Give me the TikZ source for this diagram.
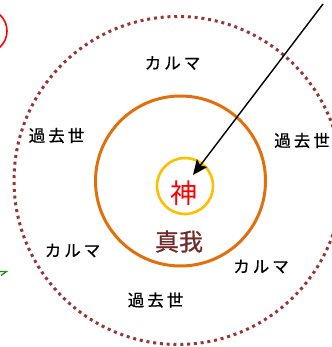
\documentclass[tikz,border=0pt]{standalone}
\usepackage{fontspec}
\newfontfamily\jp{Noto Sans CJK JP}
\newfontfamily\jpb[FakeBold=0.6]{Noto Sans CJK JP}
\usetikzlibrary{arrows.meta}
\definecolor{dotred}{RGB}{150,55,55}
\definecolor{ringorange}{RGB}{226,112,10}
\definecolor{ringyellow}{RGB}{255,190,0}
\definecolor{selfbrown}{RGB}{112,42,42}
\definecolor{greenish}{RGB}{20,150,20}
\newcommand\lsp{\kern3pt}
\tikzset{
  lbl/.style={font=\jpb\fontsize{16.5}{16.5}\selectfont, inner sep=0pt, text=black},
  outerring/.style={draw=dotred, line width=3pt, dash pattern=on 3pt off 3.8pt},
}
\begin{document}
\begin{tikzpicture}[x=1pt,y=-1pt]
\useasboundingbox (0,0) rectangle (331,347);
% partial red circle at top-left
\draw[red, line width=1.6pt] (-15,31) circle[radius=22pt];
% green fragment at left
\draw[greenish, line width=1.3pt] (-1,271.5) -- (6.5,271.5) -- (1,275.5);
% outer dotted ring
\node[outerring, circle, minimum size=328pt, inner sep=0pt] (outer) at (178,180.5) {};
% orange ring
\node[draw=ringorange, line width=3pt, circle, minimum size=170pt, inner sep=0pt] (self) at (180.5,181) {};
% yellow ring
\node[draw=ringyellow, line width=2.6pt, circle, minimum size=56pt, inner sep=0pt] (godring) at (185,186) {};
% texts
\node[font=\jp\fontsize{27}{27}\selectfont, text=red, inner sep=0pt] (god) at (183.5,193.5) {神};
\node[font=\jpb\fontsize{24}{24}\selectfont, text=selfbrown, inner sep=0pt] (shinga) at (179,241.5) {真我};
\node[lbl] (k1) at (172.5,63) {カ\lsp ル\lsp マ};
\node[lbl] (p1) at (56.5,135.5) {過\lsp 去\lsp 世};
\node[lbl] (p2) at (302,140.5) {過\lsp 去\lsp 世};
\node[lbl] (k2) at (72.5,250.5) {カ\lsp ル\lsp マ};
\node[lbl] (k3) at (261,266.5) {カ\lsp ル\lsp マ};
\node[lbl] (p3) at (155.5,300) {過\lsp 去\lsp 世};
% arrow
\coordinate (start) at (323,4);
\coordinate (tip) at (193,175);
\draw[line width=1.4pt, -{Stealth[length=15pt,width=13pt,inset=3pt]}] (start) -- (tip);
\end{tikzpicture}
\end{document}
